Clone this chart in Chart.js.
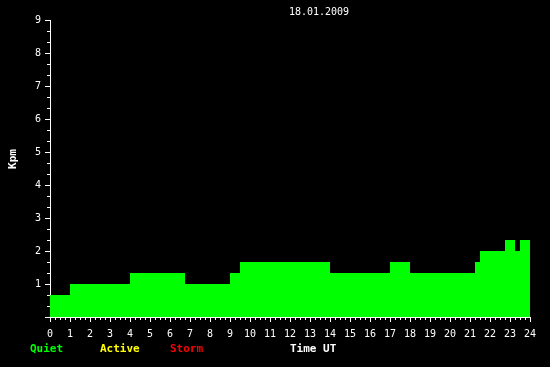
<!DOCTYPE html>
<html>
<head>
<meta charset="utf-8">
<style>
  html, body { margin: 0; padding: 0; background: #000; }
  #wrap { width: 550px; height: 367px; }
</style>
<script src="https://cdn.jsdelivr.net/npm/chart.js"></script>
</head>
<body>
<div id="wrap"><canvas id="kp"></canvas></div>
<script>
// Kpm steps: each value holds from its start time to the next one
const startTimes = [0, 1, 4, 6.75, 9, 9.5, 14, 17, 18, 21.25, 21.5, 22.75, 23.25, 23.5, 24];
const kpValues = [0.667, 1, 1.333, 1, 1.333, 1.667, 1.333, 1.667, 1.333, 1.667, 2, 2.333, 2, 2.333, 2.333];
const dateLabel = '18.01.2009';
const legendLabels = ['Quiet', 'Active', 'Storm'];
const legendColors = ['#00ff00', '#ffff00', '#ff0000'];

const mono = "'DejaVu Sans Mono', monospace";

// extra stuff the old plot has: short minor ticks, title, legend words
const extras = {
  id: 'extras',
  beforeDraw(chart) {
    const ctx = chart.ctx;
    ctx.save();
    ctx.fillStyle = '#000';
    ctx.fillRect(0, 0, chart.width, chart.height);
    ctx.restore();
  },
  afterDraw(chart) {
    const ctx = chart.ctx;
    const xs = chart.scales.x, ys = chart.scales.y;
    const area = chart.chartArea;
    ctx.save();
    ctx.strokeStyle = '#fff';
    ctx.lineWidth = 1;
    ctx.beginPath();
    for (let i = 0; i <= 96; i++) {
      if (i % 4 === 0) continue;
      const px = Math.round(xs.getPixelForValue(i / 4)) + 0.5;
      ctx.moveTo(px, area.bottom);
      ctx.lineTo(px, area.bottom + 3);
    }
    for (let i = 0; i <= 27; i++) {
      if (i % 3 === 0) continue;
      const py = Math.round(ys.getPixelForValue(i / 3)) + 0.5;
      ctx.moveTo(area.left - 3, py);
      ctx.lineTo(area.left, py);
    }
    ctx.stroke();

    ctx.textBaseline = 'middle';
    ctx.textAlign = 'center';
    ctx.fillStyle = '#fff';
    ctx.font = '10px ' + mono;
    ctx.fillText(dateLabel, 319, 12);

    ctx.font = 'bold 11px ' + mono;
    ctx.textAlign = 'left';
    const lx = [30, 100, 170];
    legendLabels.forEach((t, i) => {
      ctx.fillStyle = legendColors[i];
      ctx.fillText(t, lx[i], 349);
    });
    ctx.fillStyle = '#fff';
    ctx.fillText('Time UT', 290, 349);

    ctx.translate(13, 159);
    ctx.rotate(-Math.PI / 2);
    ctx.textAlign = 'center';
    ctx.fillText('Kpm', 0, 0);
    ctx.restore();
  }
};

new Chart('kp', {
  type: 'line',
  data: {
    datasets: [{
      data: startTimes.map((t, i) => ({ x: t, y: kpValues[i] })),
      stepped: 'before',
      fill: 'origin',
      backgroundColor: '#00ff00',
      borderColor: '#00ff00',
      borderWidth: 0,
      pointRadius: 0
    }]
  },
  options: {
    responsive: true,
    maintainAspectRatio: false,
    animation: false,
    layout: { padding: { top: 20, right: 20, left: 0, bottom: 0 } },
    plugins: {
      legend: { display: false },
      title: { display: false },
      tooltip: { enabled: false }
    },
    scales: {
      x: {
        type: 'linear',
        min: 0,
        max: 24,
        afterFit(s) { s.height = 50; },
        border: { color: '#fff' },
        grid: { drawOnChartArea: false, tickColor: '#fff', tickLength: 5 },
        ticks: {
          stepSize: 1,
          color: '#fff',
          padding: 6,
          maxRotation: 0,
          autoSkip: false,
          font: { family: mono, size: 10 }
        }
      },
      y: {
        min: 0,
        max: 9,
        afterFit(s) { s.width = 50; },
        border: { color: '#fff' },
        grid: { drawOnChartArea: false, tickColor: '#fff', tickLength: 5 },
        ticks: {
          stepSize: 1,
          color: '#fff',
          padding: 4,
          font: { family: mono, size: 10 },
          callback: v => (v === 0 ? '' : v)
        }
      }
    }
  },
  plugins: [extras]
});
</script>
</body>
</html>
